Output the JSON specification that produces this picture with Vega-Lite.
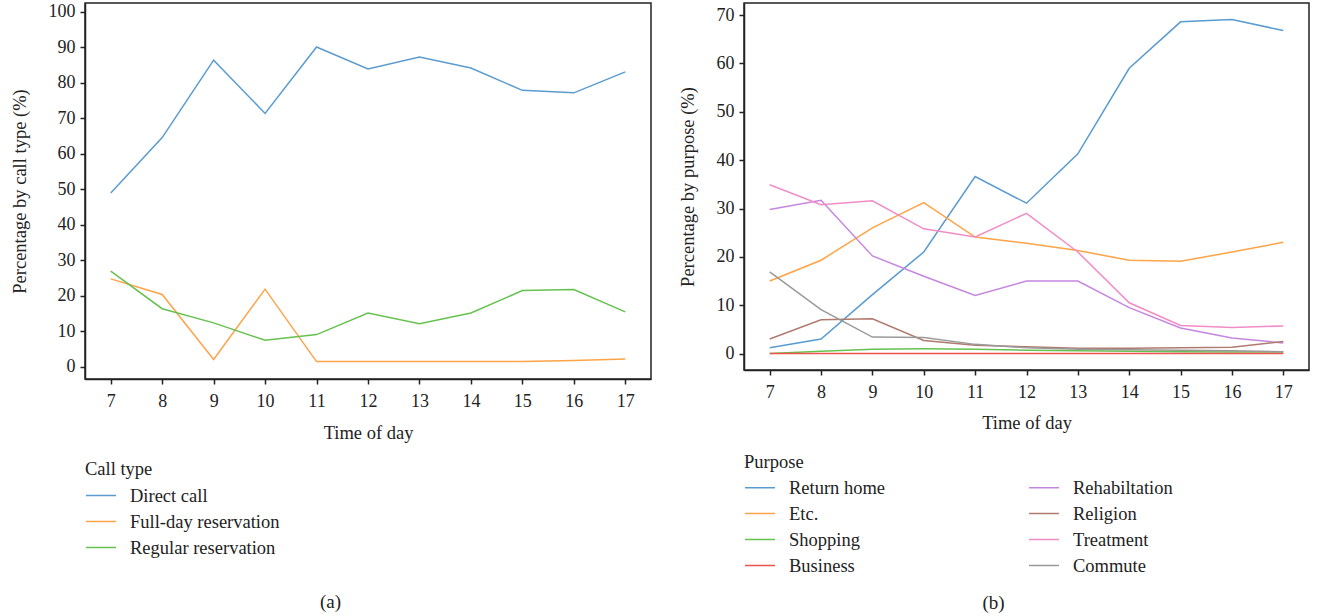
{
  "$schema": "https://vega.github.io/schema/vega-lite/v6.json",
  "padding": {"left": 9, "top": 2, "right": 6, "bottom": 2},
  "spacing": 25,
  "config": {
    "font": "Liberation Serif",
    "view": {"stroke": "#222", "strokeWidth": 1.5},
    "axis": {"labelFont": "Liberation Serif", "titleFont": "Liberation Serif", "labelFontSize": 18, "titleFontSize": 18.5, "titleFontWeight": "normal", "labelColor": "#222", "titleColor": "#222", "domainColor": "#222", "tickColor": "#222", "domainWidth": 1.5, "tickWidth": 1.5, "tickSize": 5, "grid": false},
    "legend": {"labelFont": "Liberation Serif", "titleFont": "Liberation Serif", "labelFontSize": 18.5, "titleFontSize": 18.5, "titleFontWeight": "normal", "labelColor": "#222", "titleColor": "#222", "symbolType": "stroke", "symbolSize": 900, "symbolStrokeWidth": 1.5},
    "title": {"font": "Liberation Serif", "fontSize": 19, "fontWeight": "normal", "color": "#222"}
  },
  "datasets": {
    "calltype": [
      {"hour": 7, "type": "Direct call", "pct": 49.0},
      {"hour": 8, "type": "Direct call", "pct": 64.6},
      {"hour": 9, "type": "Direct call", "pct": 86.4},
      {"hour": 10, "type": "Direct call", "pct": 71.4},
      {"hour": 11, "type": "Direct call", "pct": 90.1},
      {"hour": 12, "type": "Direct call", "pct": 83.9},
      {"hour": 13, "type": "Direct call", "pct": 87.3},
      {"hour": 14, "type": "Direct call", "pct": 84.2},
      {"hour": 15, "type": "Direct call", "pct": 77.9},
      {"hour": 16, "type": "Direct call", "pct": 77.2},
      {"hour": 17, "type": "Direct call", "pct": 83.1},
      {"hour": 7, "type": "Full-day reservation", "pct": 24.8},
      {"hour": 8, "type": "Full-day reservation", "pct": 20.4},
      {"hour": 9, "type": "Full-day reservation", "pct": 2.1},
      {"hour": 10, "type": "Full-day reservation", "pct": 21.9},
      {"hour": 11, "type": "Full-day reservation", "pct": 1.5},
      {"hour": 12, "type": "Full-day reservation", "pct": 1.5},
      {"hour": 13, "type": "Full-day reservation", "pct": 1.5},
      {"hour": 14, "type": "Full-day reservation", "pct": 1.5},
      {"hour": 15, "type": "Full-day reservation", "pct": 1.5},
      {"hour": 16, "type": "Full-day reservation", "pct": 1.8},
      {"hour": 17, "type": "Full-day reservation", "pct": 2.2},
      {"hour": 7, "type": "Regular reservation", "pct": 27.0},
      {"hour": 8, "type": "Regular reservation", "pct": 16.4},
      {"hour": 9, "type": "Regular reservation", "pct": 12.4},
      {"hour": 10, "type": "Regular reservation", "pct": 7.5},
      {"hour": 11, "type": "Regular reservation", "pct": 9.1},
      {"hour": 12, "type": "Regular reservation", "pct": 15.2},
      {"hour": 13, "type": "Regular reservation", "pct": 12.2},
      {"hour": 14, "type": "Regular reservation", "pct": 15.2},
      {"hour": 15, "type": "Regular reservation", "pct": 21.5},
      {"hour": 16, "type": "Regular reservation", "pct": 21.8},
      {"hour": 17, "type": "Regular reservation", "pct": 15.5}
    ],
    "purpose": [
      {"hour": 7, "purpose": "Return home", "pct": 1.2},
      {"hour": 8, "purpose": "Return home", "pct": 3.0},
      {"hour": 9, "purpose": "Return home", "pct": 12.2},
      {"hour": 10, "purpose": "Return home", "pct": 21.0},
      {"hour": 11, "purpose": "Return home", "pct": 36.6},
      {"hour": 12, "purpose": "Return home", "pct": 31.1},
      {"hour": 13, "purpose": "Return home", "pct": 41.3},
      {"hour": 14, "purpose": "Return home", "pct": 59.0},
      {"hour": 15, "purpose": "Return home", "pct": 68.6},
      {"hour": 16, "purpose": "Return home", "pct": 69.1},
      {"hour": 17, "purpose": "Return home", "pct": 66.8},
      {"hour": 7, "purpose": "Etc.", "pct": 15.0},
      {"hour": 8, "purpose": "Etc.", "pct": 19.3},
      {"hour": 9, "purpose": "Etc.", "pct": 26.0},
      {"hour": 10, "purpose": "Etc.", "pct": 31.2},
      {"hour": 11, "purpose": "Etc.", "pct": 24.1},
      {"hour": 12, "purpose": "Etc.", "pct": 22.8},
      {"hour": 13, "purpose": "Etc.", "pct": 21.3},
      {"hour": 14, "purpose": "Etc.", "pct": 19.3},
      {"hour": 15, "purpose": "Etc.", "pct": 19.1},
      {"hour": 16, "purpose": "Etc.", "pct": 21.0},
      {"hour": 17, "purpose": "Etc.", "pct": 23.0},
      {"hour": 7, "purpose": "Shopping", "pct": 0.0},
      {"hour": 8, "purpose": "Shopping", "pct": 0.5},
      {"hour": 9, "purpose": "Shopping", "pct": 0.9},
      {"hour": 10, "purpose": "Shopping", "pct": 1.0},
      {"hour": 11, "purpose": "Shopping", "pct": 0.9},
      {"hour": 12, "purpose": "Shopping", "pct": 0.7},
      {"hour": 13, "purpose": "Shopping", "pct": 0.6},
      {"hour": 14, "purpose": "Shopping", "pct": 0.5},
      {"hour": 15, "purpose": "Shopping", "pct": 0.4},
      {"hour": 16, "purpose": "Shopping", "pct": 0.3},
      {"hour": 17, "purpose": "Shopping", "pct": 0.3},
      {"hour": 7, "purpose": "Business", "pct": 0.0},
      {"hour": 8, "purpose": "Business", "pct": 0.0},
      {"hour": 9, "purpose": "Business", "pct": 0.0},
      {"hour": 10, "purpose": "Business", "pct": 0.0},
      {"hour": 11, "purpose": "Business", "pct": 0.0},
      {"hour": 12, "purpose": "Business", "pct": 0.0},
      {"hour": 13, "purpose": "Business", "pct": 0.0},
      {"hour": 14, "purpose": "Business", "pct": 0.0},
      {"hour": 15, "purpose": "Business", "pct": 0.0},
      {"hour": 16, "purpose": "Business", "pct": 0.0},
      {"hour": 17, "purpose": "Business", "pct": 0.0},
      {"hour": 7, "purpose": "Rehabiltation", "pct": 29.8},
      {"hour": 8, "purpose": "Rehabiltation", "pct": 31.7},
      {"hour": 9, "purpose": "Rehabiltation", "pct": 20.2},
      {"hour": 10, "purpose": "Rehabiltation", "pct": 16.0},
      {"hour": 11, "purpose": "Rehabiltation", "pct": 12.0},
      {"hour": 12, "purpose": "Rehabiltation", "pct": 15.0},
      {"hour": 13, "purpose": "Rehabiltation", "pct": 15.0},
      {"hour": 14, "purpose": "Rehabiltation", "pct": 9.5},
      {"hour": 15, "purpose": "Rehabiltation", "pct": 5.3},
      {"hour": 16, "purpose": "Rehabiltation", "pct": 3.2},
      {"hour": 17, "purpose": "Rehabiltation", "pct": 2.2},
      {"hour": 7, "purpose": "Religion", "pct": 3.0},
      {"hour": 8, "purpose": "Religion", "pct": 7.0},
      {"hour": 9, "purpose": "Religion", "pct": 7.2},
      {"hour": 10, "purpose": "Religion", "pct": 2.7},
      {"hour": 11, "purpose": "Religion", "pct": 1.7},
      {"hour": 12, "purpose": "Religion", "pct": 1.4},
      {"hour": 13, "purpose": "Religion", "pct": 1.1},
      {"hour": 14, "purpose": "Religion", "pct": 1.1},
      {"hour": 15, "purpose": "Religion", "pct": 1.2},
      {"hour": 16, "purpose": "Religion", "pct": 1.3},
      {"hour": 17, "purpose": "Religion", "pct": 2.5},
      {"hour": 7, "purpose": "Treatment", "pct": 34.9},
      {"hour": 8, "purpose": "Treatment", "pct": 30.8},
      {"hour": 9, "purpose": "Treatment", "pct": 31.6},
      {"hour": 10, "purpose": "Treatment", "pct": 25.8},
      {"hour": 11, "purpose": "Treatment", "pct": 24.1},
      {"hour": 12, "purpose": "Treatment", "pct": 29.0},
      {"hour": 13, "purpose": "Treatment", "pct": 21.0},
      {"hour": 14, "purpose": "Treatment", "pct": 10.5},
      {"hour": 15, "purpose": "Treatment", "pct": 5.8},
      {"hour": 16, "purpose": "Treatment", "pct": 5.4},
      {"hour": 17, "purpose": "Treatment", "pct": 5.7},
      {"hour": 7, "purpose": "Commute", "pct": 16.9},
      {"hour": 8, "purpose": "Commute", "pct": 9.1},
      {"hour": 9, "purpose": "Commute", "pct": 3.4},
      {"hour": 10, "purpose": "Commute", "pct": 3.3},
      {"hour": 11, "purpose": "Commute", "pct": 1.9},
      {"hour": 12, "purpose": "Commute", "pct": 1.2},
      {"hour": 13, "purpose": "Commute", "pct": 0.9},
      {"hour": 14, "purpose": "Commute", "pct": 0.8},
      {"hour": 15, "purpose": "Commute", "pct": 0.7},
      {"hour": 16, "purpose": "Commute", "pct": 0.6},
      {"hour": 17, "purpose": "Commute", "pct": 0.4}
    ]
  },
  "resolve": {"scale": {"color": "independent"}, "legend": {"color": "independent"}},
  "hconcat": [
    {
      "width": 566,
      "height": 376,
      "data": {"name": "calltype"},
      "title": {"text": "(a)", "orient": "bottom", "anchor": "middle", "frame": "bounds", "offset": 36},
      "mark": {"type": "line", "strokeWidth": 1.5, "clip": true},
      "encoding": {
        "x": {"field": "hour", "type": "quantitative", "scale": {"domain": [6.5, 17.5], "nice": false, "zero": false},
              "axis": {"values": [7, 8, 9, 10, 11, 12, 13, 14, 15, 16, 17], "title": "Time of day", "labelPadding": 8, "titlePadding": 13}},
        "y": {"field": "pct", "type": "quantitative", "scale": {"domain": [-3.4, 102.5], "nice": false, "zero": false},
              "axis": {"values": [0, 10, 20, 30, 40, 50, 60, 70, 80, 90, 100], "title": "Percentage by call type (%)", "labelPadding": 5, "titlePadding": 19}},
        "color": {"field": "type", "type": "nominal", "title": "Call type",
                  "scale": {"domain": ["Direct call", "Full-day reservation", "Regular reservation"], "range": ["#5a9bd0", "#ffa347", "#66c24f"]},
                  "legend": {"orient": "bottom", "direction": "vertical", "offset": 18, "rowPadding": -6, "titlePadding": 1, "labelOffset": 13}}
      }
    },
    {
      "width": 565,
      "height": 367,
      "data": {"name": "purpose"},
      "title": {"text": "(b)", "orient": "bottom", "anchor": "middle", "frame": "bounds", "offset": 19},
      "mark": {"type": "line", "strokeWidth": 1.5, "clip": true},
      "encoding": {
        "x": {"field": "hour", "type": "quantitative", "scale": {"domain": [6.5, 17.5], "nice": false, "zero": false},
              "axis": {"values": [7, 8, 9, 10, 11, 12, 13, 14, 15, 16, 17], "title": "Time of day", "labelPadding": 8, "titlePadding": 12}},
        "y": {"field": "pct", "type": "quantitative", "scale": {"domain": [-3.4, 72.5], "nice": false, "zero": false},
              "axis": {"values": [0, 10, 20, 30, 40, 50, 60, 70], "title": "Percentage by purpose (%)", "labelPadding": 5, "titlePadding": 19}},
        "color": {"field": "purpose", "type": "nominal", "title": "Purpose",
                  "scale": {"domain": ["Return home", "Etc.", "Shopping", "Business", "Rehabiltation", "Religion", "Treatment", "Commute"],
                            "range": ["#5a9bd0", "#ffa347", "#66c24f", "#ef5350", "#c586e0", "#b07a6e", "#f28cc6", "#9a9a9a"]},
                  "legend": {"orient": "bottom", "direction": "vertical", "columns": 2, "offset": 21, "rowPadding": -6, "columnPadding": 140, "titlePadding": 0, "labelOffset": 13}}
      }
    }
  ]
}
